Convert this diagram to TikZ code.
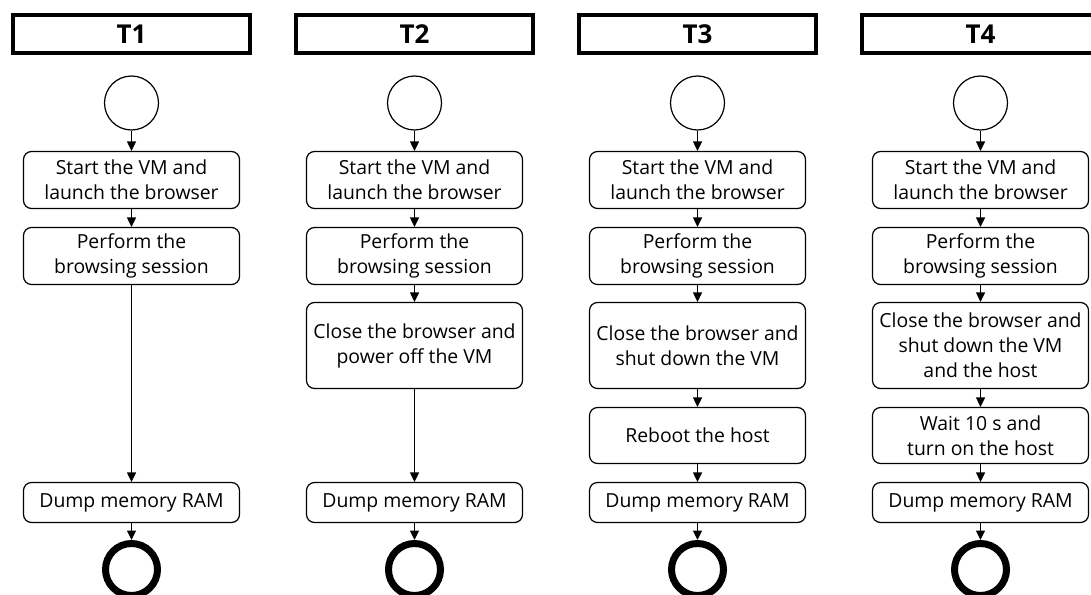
\documentclass[tikz,border=0pt]{standalone}
\usepackage{fontspec}
\setmainfont{Open Sans}
\usetikzlibrary{arrows.meta}

\tikzset{
    title/.style={draw, line width=3.5pt, minimum width=237pt, minimum height=38pt,
        inner sep=0pt, font=\bfseries\fontsize{26}{30}\selectfont},
    stage/.style={draw, line width=1.2pt, rounded corners=8pt, minimum width=216pt,
        align=center, inner sep=2pt, font=\fontsize{19.4}{25}\selectfont},
    start/.style={circle, draw, line width=1.2pt, minimum size=54pt, inner sep=0pt},
    stop/.style={circle, draw, line width=7pt, minimum size=52pt, inner sep=0pt},
    flow/.style={-{Triangle[width=9pt,length=9.5pt]}, line width=1.2pt},
}

\begin{document}
\begin{tikzpicture}[x=1pt, y=-1pt]
\useasboundingbox (0,0) rectangle (1091,594);

% T1: dump right after the session
\begin{scope}
    % Define nodes
    \node[title] (T1) at (131.5, 34) {T1};
    \node[start] (S1) at (131.5, 103) {};
    \node[stage, minimum height=57pt] (A1) at (131.5, 180) {Start the VM and\\launch the browser};
    \node[stage, minimum height=57pt] (B1) at (131.5, 256) {Perform the\\browsing session};
    \node[stage, minimum height=40pt] (R1) at (131.5, 502.5) {Dump memory RAM};
    \node[stop] (E1) at (131.5, 569.5) {};

    \draw[flow] (S1) -- (A1);
    \draw[flow] (A1) -- (B1);
    \draw[flow] (B1) -- (R1);
    \draw[flow] (R1) -- (E1);
\end{scope}

% T2: power off the VM
\begin{scope}[xshift=283pt]
    % Define nodes
    \node[title] (T2) at (131.5, 34) {T2};
    \node[start] (S2) at (131.5, 103) {};
    \node[stage, minimum height=57pt] (A2) at (131.5, 180) {Start the VM and\\launch the browser};
    \node[stage, minimum height=57pt] (B2) at (131.5, 256) {Perform the\\browsing session};
    \node[stage, minimum height=86pt] (C2) at (131.5, 345.5) {Close the browser and\\power off the VM};
    \node[stage, minimum height=40pt] (R2) at (131.5, 502.5) {Dump memory RAM};
    \node[stop] (E2) at (131.5, 569.5) {};

    \draw[flow] (S2) -- (A2);
    \draw[flow] (A2) -- (B2);
    \draw[flow] (B2) -- (C2);
    \draw[flow] (C2) -- (R2);
    \draw[flow] (R2) -- (E2);
\end{scope}

% T3: reboot the host
\begin{scope}[xshift=566pt]
    % Define nodes
    \node[title] (T3) at (131.5, 34) {T3};
    \node[start] (S3) at (131.5, 103) {};
    \node[stage, minimum height=57pt] (A3) at (131.5, 180) {Start the VM and\\launch the browser};
    \node[stage, minimum height=57pt] (B3) at (131.5, 256) {Perform the\\browsing session};
    \node[stage, minimum height=86pt] (C3) at (131.5, 345.5) {Close the browser and\\shut down the VM};
    \node[stage, minimum height=56pt] (D3) at (131.5, 435.5) {Reboot the host};
    \node[stage, minimum height=40pt] (R3) at (131.5, 502.5) {Dump memory RAM};
    \node[stop] (E3) at (131.5, 569.5) {};

    \draw[flow] (S3) -- (A3);
    \draw[flow] (A3) -- (B3);
    \draw[flow] (B3) -- (C3);
    \draw[flow] (C3) -- (D3);
    \draw[flow] (D3) -- (R3);
    \draw[flow] (R3) -- (E3);
\end{scope}

% T4: host off, wait, host on
\begin{scope}[xshift=849pt]
    % Define nodes
    \node[title] (T4) at (131.5, 34) {T4};
    \node[start] (S4) at (131.5, 103) {};
    \node[stage, minimum height=57pt] (A4) at (131.5, 180) {Start the VM and\\launch the browser};
    \node[stage, minimum height=57pt] (B4) at (131.5, 256) {Perform the\\browsing session};
    \node[stage, minimum height=86pt] (C4) at (131.5, 345.5) {Close the browser and\\shut down the VM\\and the host};
    \node[stage, minimum height=56pt] (D4) at (131.5, 435.5) {Wait 10 s and\\turn on the host};
    \node[stage, minimum height=40pt] (R4) at (131.5, 502.5) {Dump memory RAM};
    \node[stop] (E4) at (131.5, 569.5) {};

    \draw[flow] (S4) -- (A4);
    \draw[flow] (A4) -- (B4);
    \draw[flow] (B4) -- (C4);
    \draw[flow] (C4) -- (D4);
    \draw[flow] (D4) -- (R4);
    \draw[flow] (R4) -- (E4);
\end{scope}

\end{tikzpicture}
\end{document}
